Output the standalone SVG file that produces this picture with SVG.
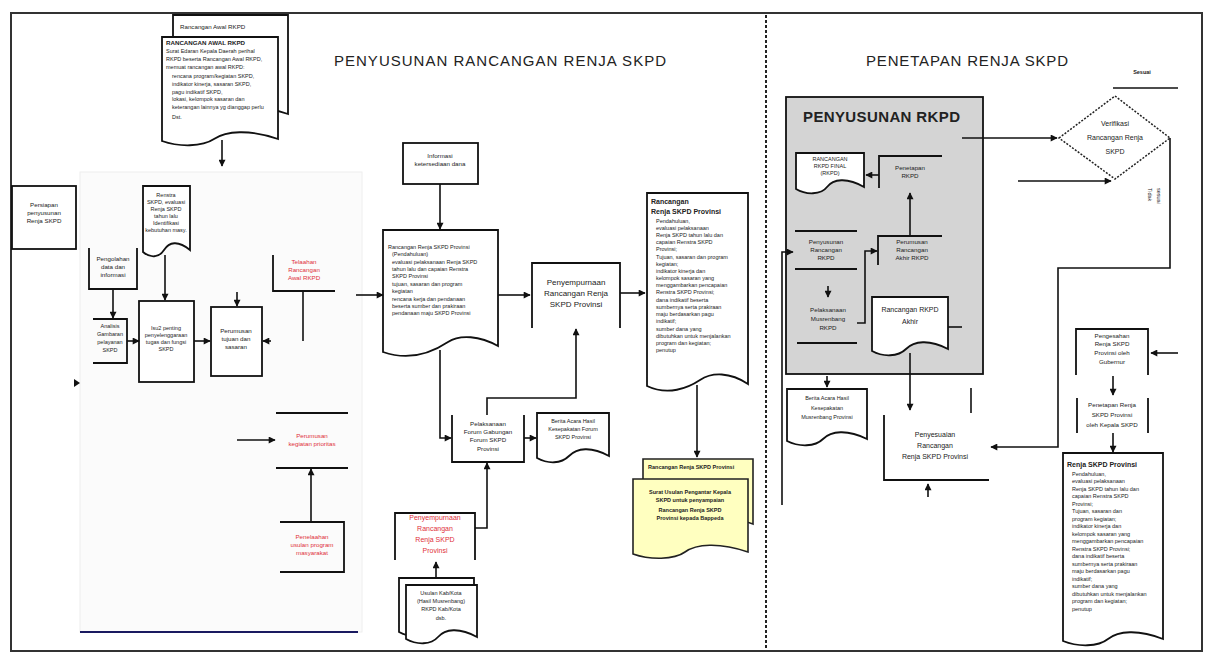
<svg xmlns="http://www.w3.org/2000/svg" width="1210" height="659" viewBox="0 0 1210 659">
<style>
.t{font-family:"Liberation Sans",Arial,sans-serif;fill:#222}
.m{text-anchor:middle}
.s5{font-size:5.5px}
.s6{font-size:6.2px}
.s7{font-size:7px}
.s8{font-size:8px}
.bd{font-weight:bold}
.r{fill:#e0303a}
.b{fill:#fff;stroke:#111;stroke-width:1.8}
.o{fill:none;stroke:#111;stroke-width:1.8}
.c{fill:none;stroke:#111;stroke-width:1.6}
.y{fill:#ffffc0;stroke:#222;stroke-width:1.6}
</style>
<defs>
<marker id="ah" viewBox="0 0 10 10" refX="9" refY="5" markerUnits="userSpaceOnUse" markerWidth="8" markerHeight="7" orient="auto">
<path d="M0,0 L10,5 L0,10 z" fill="#111"/>
</marker>
</defs>
<rect x="0" y="0" width="1210" height="659" fill="#fff"/>
<rect x="11" y="13" width="1191" height="638" fill="none" stroke="#333" stroke-width="2"/>
<line x1="766" y1="15" x2="766" y2="650" stroke="#222" stroke-width="2" stroke-dasharray="3 2"/>
<rect x="80" y="172" width="282" height="460" fill="#fbfbfb" stroke="#eee" stroke-width="1"/>
<line x1="80" y1="632" x2="358" y2="632" stroke="#1a1a60" stroke-width="2"/>
<text class="t" x="500" y="66" font-size="15" text-anchor="middle" textLength="332" fill="#333">PENYUSUNAN RANCANGAN RENJA SKPD</text>
<text class="t" x="967" y="66" font-size="15" text-anchor="middle" textLength="202" fill="#333">PENETAPAN RENJA SKPD</text>

<g id="rancangan-awal-rkpd">
<path class="b" d="M173 15 H288 V114 C259 104, 236 106, 225 114 S190 122, 173 116 Z"/>
<text class="t s6" x="180" y="29">Rancangan Awal RKPD</text>
<path class="b" d="M162 37 H278 V139 C249 129, 226 131, 214 139 S179 147, 162 141 Z"/>
<text class="t s6 bd" x="166" y="45">RANCANGAN AWAL RKPD</text>
<text class="t s5" x="166" y="53">Surat Edaran Kepala Daerah perihal</text>
<text class="t s5" x="166" y="61">RKPD beserta Rancangan Awal RKPD,</text>
<text class="t s5" x="166" y="69">memuat rancangan awal RKPD:</text>
<text class="t s5" x="172" y="78">rencana program/kegiatan SKPD,</text>
<text class="t s5" x="172" y="86">indikator kinerja, sasaran SKPD,</text>
<text class="t s5" x="172" y="94">pagu indikatif SKPD,</text>
<text class="t s5" x="172" y="101">lokasi, kelompok sasaran dan</text>
<text class="t s5" x="172" y="109">keterangan lainnya yg dianggap perlu</text>
<text class="t s5" x="172" y="119">Dst.</text>
</g>

<g id="persiapan">
<rect class="b" x="12" y="186" width="64" height="63"/>
<text class="t s6 m" x="44" y="207">Persiapan</text>
<text class="t s6 m" x="44" y="215">penyusunan</text>
<text class="t s6 m" x="44" y="223">Renja SKPD</text>
</g>

<g id="pengolahan-data">
<path class="o" d="M89 248 V289 H137 V248"/>
<text class="t s6 m" x="113" y="261">Pengolahan</text>
<text class="t s6 m" x="113" y="269">data dan</text>
<text class="t s6 m" x="113" y="277">informasi</text>
</g>

<g id="renstra">
<path class="b" d="M143 186 H190 V250 C178 240, 169 242, 164 250 S150 258, 143 252 Z"/>
<text class="t s5 m" x="166" y="197">Renstra</text>
<text class="t s5 m" x="166" y="204">SKPD, evaluasi</text>
<text class="t s5 m" x="166" y="211">Renja SKPD</text>
<text class="t s5 m" x="166" y="218">tahun lalu</text>
<text class="t s5 m" x="166" y="225">Identifikasi</text>
<text class="t s5 m" x="166" y="232">kebutuhan masy.</text>
</g>

<g id="analisis">
<path class="o" d="M93 319 H127 V363 H93"/>
<text class="t s5 m" x="110" y="328">Analisis</text>
<text class="t s5 m" x="110" y="336">Gambaran</text>
<text class="t s5 m" x="110" y="344">pelayanan</text>
<text class="t s5 m" x="110" y="352">SKPD</text>
</g>

<g id="isu-penting">
<rect class="b" x="139" y="301" width="55" height="81"/>
<text class="t s5 m" x="166" y="330">Isu2 penting</text>
<text class="t s5 m" x="166" y="337">penyelenggaraan</text>
<text class="t s5 m" x="166" y="344">tugas dan fungsi</text>
<text class="t s5 m" x="166" y="351">SKPD</text>
</g>

<g id="perumusan-tujuan">
<rect class="b" x="211" y="307" width="51" height="69"/>
<text class="t s6 m" x="236" y="333">Perumusan</text>
<text class="t s6 m" x="236" y="341">tujuan dan</text>
<text class="t s6 m" x="236" y="349">sasaran</text>
</g>

<g id="telaahan">
<path class="o" d="M273 255 V291 H335"/>
<text class="t s6 m r" x="304" y="264">Telaahan</text>
<text class="t s6 m r" x="304" y="272">Rancangan</text>
<text class="t s6 m r" x="304" y="280">Awal RKPD</text>
</g>

<g id="perumusan-kegiatan">
<line class="o" x1="276" y1="413" x2="348" y2="413"/>
<line class="o" x1="276" y1="468" x2="348" y2="468"/>
<text class="t s6 m r" x="312" y="438">Perumusan</text>
<text class="t s6 m r" x="312" y="446">kegiatan prioritas</text>
</g>

<g id="penelaahan">
<path class="o" d="M280 522 H344 V572 H280"/>
<text class="t s6 m r" x="312" y="539">Penelaahan</text>
<text class="t s6 m r" x="312" y="547">usulan program</text>
<text class="t s6 m r" x="312" y="555">masyarakat</text>
</g>

<g id="informasi">
<rect class="b" x="403" y="143" width="75" height="41"/>
<text class="t s6 m" x="440" y="158">Informasi</text>
<text class="t s6 m" x="440" y="166">ketersediaan dana</text>
</g>

<g id="rancangan-renja">
<path class="b" d="M383 230 H498 V346 C480 336, 460 334, 448 342 S412 362, 383 352 Z"/>
<text class="t s5" x="388" y="249">Rancangan Renja SKPD Provinsi</text>
<text class="t s5" x="392" y="256">(Pendahuluan)</text>
<text class="t s5" x="392" y="264">evaluasi pelaksanaan Renja SKPD</text>
<text class="t s5" x="392" y="271">tahun lalu dan capaian Renstra</text>
<text class="t s5" x="392" y="278">SKPD Provinsi</text>
<text class="t s5" x="392" y="286">tujuan, sasaran dan program</text>
<text class="t s5" x="392" y="293">kegiatan</text>
<text class="t s5" x="392" y="301">rencana kerja dan pendanaan</text>
<text class="t s5" x="392" y="308">beserta sumber dan prakiraan</text>
<text class="t s5" x="392" y="315">pendanaan maju SKPD Provinsi</text>
</g>

<g id="penyempurnaan">
<path class="o" d="M532 328 V263 H620 V328"/>
<text class="t s8 m" x="576" y="285">Penyempurnaan</text>
<text class="t s8 m" x="576" y="296">Rancangan Renja</text>
<text class="t s8 m" x="576" y="307">SKPD Provinsi</text>
</g>

<g id="pelaksanaan-forum">
<path class="o" d="M452 415 V462 H524 V415"/>
<text class="t s6 m" x="488" y="426">Pelaksanaan</text>
<text class="t s6 m" x="488" y="434">Forum Gabungan</text>
<text class="t s6 m" x="488" y="442">Forum SKPD</text>
<text class="t s6 m" x="488" y="451">Provinsi</text>
</g>

<g id="berita-acara-forum">
<path class="b" d="M537 413 H609 V456 C591 446, 577 448, 569 456 S548 464, 537 458 Z"/>
<text class="t s5 m" x="573" y="423">Berita Acara Hasil</text>
<text class="t s5 m" x="573" y="431">Kesepakatan Forum</text>
<text class="t s5 m" x="573" y="439">SKPD Provinsi</text>
</g>

<g id="penyempurnaan-red">
<path class="o" d="M395 560 V513 H475 V560"/>
<text class="t s7 m r" x="435" y="520">Penyempurnaan</text>
<text class="t s7 m r" x="435" y="531">Rancangan</text>
<text class="t s7 m r" x="435" y="542">Renja SKPD</text>
<text class="t s7 m r" x="435" y="553">Provinsi</text>
</g>

<g id="usulan-kabkota">
<path class="b" d="M399 578 H474 V630 C455 620, 440 622, 433 630 S410 638, 399 632 Z"/>
<path class="b" d="M406 585 H477 V637 C459 627, 445 629, 438 637 S417 645, 406 639 Z"/>
<text class="t s5 m" x="441" y="595">Usulan Kab/Kota</text>
<text class="t s5 m" x="441" y="603">(Hasil Musrenbang)</text>
<text class="t s5 m" x="441" y="611">RKPD Kab/Kota</text>
<text class="t s5 m" x="441" y="620">dsb.</text>
</g>

<g id="rancangan-renja-provinsi">
<path class="b" d="M647 193 H748 V384 C730 372, 712 372, 700 380 S668 396, 647 386 Z"/>
<text class="t s7 bd" x="651" y="204">Rancangan</text>
<text class="t s7 bd" x="651" y="214">Renja SKPD Provinsi</text>
<text class="t s5" x="656" y="223">Pendahuluan,</text>
<text class="t s5" x="656" y="230">evaluasi pelaksanaan</text>
<text class="t s5" x="656" y="237">Renja SKPD tahun lalu dan</text>
<text class="t s5" x="656" y="244">capaian Renstra SKPD</text>
<text class="t s5" x="656" y="251">Provinsi;</text>
<text class="t s5" x="656" y="259">Tujuan, sasaran dan program</text>
<text class="t s5" x="656" y="266">kegiatan;</text>
<text class="t s5" x="656" y="273">indikator kinerja dan</text>
<text class="t s5" x="656" y="280">kelompok sasaran yang</text>
<text class="t s5" x="656" y="287">menggambarkan pencapaian</text>
<text class="t s5" x="656" y="294">Renstra SKPD Provinsi;</text>
<text class="t s5" x="656" y="302">dana indikatif beserta</text>
<text class="t s5" x="656" y="309">sumbernya serta prakiraan</text>
<text class="t s5" x="656" y="316">maju berdasarkan pagu</text>
<text class="t s5" x="656" y="323">indikatif;</text>
<text class="t s5" x="656" y="331">sumber dana yang</text>
<text class="t s5" x="656" y="338">dibutuhkan untuk menjalankan</text>
<text class="t s5" x="656" y="345">program dan kegiatan;</text>
<text class="t s5" x="656" y="352">penutup</text>
</g>

<g id="surat-usulan">
<path class="y" d="M643 459 H753 V524 C726 514, 704 516, 693 524 S660 532, 643 526 Z"/>
<text class="t s5 bd" x="648" y="469">Rancangan Renja SKPD Provinsi</text>
<path class="y" d="M633 479 H748 V552 C719 542, 696 544, 685 552 S650 560, 633 554 Z"/>
<text class="t s5 m bd" x="690" y="494">Surat Usulan Pengantar Kepala</text>
<text class="t s5 m bd" x="690" y="502">SKPD untuk penyampaian</text>
<text class="t s5 m bd" x="690" y="512">Rancangan Renja SKPD</text>
<text class="t s5 m bd" x="690" y="520">Provinsi kepada Bappeda</text>
</g>

<g id="penyusunan-rkpd">
<rect x="786" y="97" width="197" height="277" fill="#d4d4d4" stroke="#111" stroke-width="1.8"/>
<text class="t bd" x="803" y="122" font-size="15" textLength="157" fill="#111">PENYUSUNAN RKPD</text>
</g>

<g id="rkpd-final">
<path class="b" d="M796 153 H864 V187 C847 177, 833 179, 827 187 S806 195, 796 189 Z"/>
<text class="t s5 m" x="830" y="161">RANCANGAN</text>
<text class="t s5 m" x="830" y="168">RKPD FINAL</text>
<text class="t s5 m" x="830" y="175">(RKPD)</text>
</g>

<g id="penetapan-rkpd">
<path class="o" d="M942 156 H879 V188"/>
<text class="t s6 m" x="910" y="170">Penetapan</text>
<text class="t s6 m" x="910" y="178">RKPD</text>
</g>

<g id="perumusan-akhir">
<path class="o" d="M942 236 H878 V265"/>
<text class="t s6 m" x="912" y="244">Perumusan</text>
<text class="t s6 m" x="912" y="252">Rancangan</text>
<text class="t s6 m" x="912" y="260">Akhir RKPD</text>
</g>

<g id="penyusunan-rancangan-rkpd">
<line class="o" x1="795" y1="231" x2="857" y2="231"/>
<line class="o" x1="795" y1="269" x2="857" y2="269"/>
<text class="t s6 m" x="826" y="244">Penyusunan</text>
<text class="t s6 m" x="826" y="252">Rancangan</text>
<text class="t s6 m" x="826" y="260">RKPD</text>
</g>

<g id="musrenbang-rkpd">
<line class="o" x1="797" y1="343" x2="857" y2="343"/>
<text class="t s6 m" x="828" y="312">Pelaksanaan</text>
<text class="t s6 m" x="828" y="321">Musrenbang</text>
<text class="t s6 m" x="828" y="330">RKPD</text>
</g>

<g id="rancangan-rkpd-akhir">
<path class="b" d="M872 297 H948 V349 C929 339, 914 341, 906 349 S883 357, 872 351 Z"/>
<text class="t s7 m" x="910" y="312">Rancangan RKPD</text>
<text class="t s7 m" x="910" y="324">Akhir</text>
</g>

<g id="berita-acara-musrenbang">
<path class="b" d="M787 389 H867 V439 C847 429, 831 431, 823 439 S799 447, 787 441 Z"/>
<text class="t s5 m" x="827" y="400">Berita Acara Hasil</text>
<text class="t s5 m" x="827" y="410">Kesepakatan</text>
<text class="t s5 m" x="827" y="419">Musrenbang Provinsi</text>
</g>

<g id="penyesuaian">
<path class="o" d="M884 415 V480 H989"/>
<text class="t s7 m" x="935" y="437">Penyesuaian</text>
<text class="t s7 m" x="935" y="448">Rancangan</text>
<text class="t s7 m" x="935" y="459">Renja SKPD Provinsi</text>
</g>

<g id="verifikasi">
<polygon points="1059,138 1115,96 1170,138 1115,179" fill="#fff" stroke="#222" stroke-width="1.5" stroke-dasharray="2 1.5"/>
<text class="t s7 m" x="1115" y="126">Verifikasi</text>
<text class="t s7 m" x="1115" y="140">Rancangan Renja</text>
<text class="t s7 m" x="1115" y="154">SKPD</text>
</g>

<g id="pengesahan">
<path class="o" d="M1076 375 V329 H1148 V375"/>
<text class="t s6 m" x="1112" y="338">Pengesahan</text>
<text class="t s6 m" x="1112" y="346">Renja SKPD</text>
<text class="t s6 m" x="1112" y="355">Provinsi oleh</text>
<text class="t s6 m" x="1112" y="364">Gubernur</text>
</g>

<g id="penetapan-renja">
<line class="o" x1="1077" y1="398" x2="1077" y2="433"/>
<line class="o" x1="1148" y1="398" x2="1148" y2="433"/>
<text class="t s6 m" x="1112" y="407">Penetapan Renja</text>
<text class="t s6 m" x="1112" y="417">SKPD Provinsi</text>
<text class="t s6 m" x="1112" y="427">oleh Kepala SKPD</text>
</g>

<g id="renja-skpd-provinsi">
<path class="b" d="M1063 453 H1163 V639 C1138 629, 1118 631, 1108 639 S1078 647, 1063 641 Z"/>
<text class="t s7 bd" x="1067" y="467">Renja SKPD Provinsi</text>
<text class="t s5" x="1072" y="476">Pendahuluan,</text>
<text class="t s5" x="1072" y="483">evaluasi pelaksanaan</text>
<text class="t s5" x="1072" y="491">Renja SKPD tahun lalu dan</text>
<text class="t s5" x="1072" y="498">capaian Renstra SKPD</text>
<text class="t s5" x="1072" y="506">Provinsi;</text>
<text class="t s5" x="1072" y="513">Tujuan, sasaran dan</text>
<text class="t s5" x="1072" y="521">program kegiatan;</text>
<text class="t s5" x="1072" y="528">indikator kinerja dan</text>
<text class="t s5" x="1072" y="536">kelompok sasaran yang</text>
<text class="t s5" x="1072" y="543">menggambarkan pencapaian</text>
<text class="t s5" x="1072" y="551">Renstra SKPD Provinsi;</text>
<text class="t s5" x="1072" y="558">dana indikatif beserta</text>
<text class="t s5" x="1072" y="566">sumbernya serta prakiraan</text>
<text class="t s5" x="1072" y="573">maju berdasarkan pagu</text>
<text class="t s5" x="1072" y="581">indikatif;</text>
<text class="t s5" x="1072" y="588">sumber dana yang</text>
<text class="t s5" x="1072" y="596">dibutuhkan untuk menjalankan</text>
<text class="t s5" x="1072" y="603">program dan kegiatan;</text>
<text class="t s5" x="1072" y="611">penutup</text>
</g>

<g id="connectors">
<path class="c" d="M222 140 V166" marker-end="url(#ah)"/>
<path class="c" d="M113 289 V318" marker-end="url(#ah)"/>
<path class="c" d="M127 341 H139" marker-end="url(#ah)"/>
<path class="c" d="M165 255 V300" marker-end="url(#ah)"/>
<path class="c" d="M194 341 H210" marker-end="url(#ah)"/>
<path class="c" d="M237 292 V306" marker-end="url(#ah)"/>
<path class="c" d="M271 341 H263" marker-end="url(#ah)"/>
<path class="c" d="M303 291 V341"/>
<path class="c" d="M356 295 H383" marker-end="url(#ah)"/>
<path class="c" d="M237 440 H275" marker-end="url(#ah)"/>
<path class="c" d="M311 522 V469" marker-end="url(#ah)"/>
<path class="c" d="M440 184 V229" marker-end="url(#ah)"/>
<path class="c" d="M498 295 H530" marker-end="url(#ah)"/>
<path class="c" d="M440 350 V438 H451" marker-end="url(#ah)"/>
<path class="c" d="M487 415 V398 H576 V329" marker-end="url(#ah)"/>
<path class="c" d="M524 438 H536" marker-end="url(#ah)"/>
<path class="c" d="M475 528 H487 V463" marker-end="url(#ah)"/>
<path class="c" d="M436 578 V562" marker-end="url(#ah)"/>
<path class="c" d="M620 293 H645" marker-end="url(#ah)"/>
<path class="c" d="M697 385 V457" marker-end="url(#ah)"/>
<path class="c" d="M962 138 H1057" marker-end="url(#ah)"/>
<path class="c" d="M1018 181 H1111" marker-end="url(#ah)"/>
<path class="c" d="M1170 138 V268 H1058 V447 H991" marker-end="url(#ah)"/>
<path class="c" d="M879 175 H866" marker-end="url(#ah)"/>
<path class="c" d="M910 236 V193" marker-end="url(#ah)"/>
<path class="c" d="M857 323 H865 V251 H877" marker-end="url(#ah)"/>
<path class="c" d="M782 505 V252 H793" marker-end="url(#ah)"/>
<path class="c" d="M828 286 V297" marker-end="url(#ah)"/>
<path class="c" d="M910 353 V410" marker-end="url(#ah)"/>
<path class="c" d="M948 327 H962"/>
<path class="c" d="M971 388 V413"/>
<path class="c" d="M928 497 V484" marker-end="url(#ah)"/>
<path class="c" d="M827 376 V387" marker-end="url(#ah)"/>
<path class="c" d="M1178 353 H1151" marker-end="url(#ah)"/>
<path class="c" d="M1113 376 V395" marker-end="url(#ah)"/>
<path class="c" d="M1113 433 V452" marker-end="url(#ah)"/>
<path class="c" d="M1113 88 H1178"/>
<path d="M74 379 L80 383 L74 387 z" fill="#111"/>
<text class="t s5 m bd" x="1142" y="74">Sesuai</text>
<text class="t s5" transform="translate(1148,188) rotate(90)">Tidak</text>
<text class="t s5" transform="translate(1157,188) rotate(90)">sesuai</text>
</g>
</svg>
